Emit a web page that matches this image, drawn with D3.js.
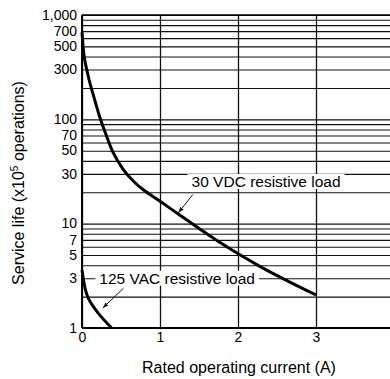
<!DOCTYPE html>
<html>
<head>
<meta charset="utf-8">
<script src="https://cdn.jsdelivr.net/npm/d3@7"></script>
<style>
  body { margin: 0; background: #fff; }
  svg { display: block; font-family: 'Liberation Sans', Arial, Helvetica, sans-serif; }
</style>
</head>
<body>
<div id="chart"></div>
<script>
// values
const xTicks = [0, 1, 2, 3, 4];
const yLabels = [1, 3, 5, 7, 10, 30, 50, 70, 100, 300, 500, 700, 1000];
const yGrid = [1, 2, 3, 4, 5, 6, 7, 8, 9, 10, 20, 30, 40, 50, 60, 70, 80, 90,
  100, 200, 300, 400, 500, 600, 700, 800, 900, 1000];

const vdcCurrent = [0, 0.03, 0.07, 0.1, 0.167, 0.237, 0.3, 0.4, 0.53, 0.66, 0.79,
  1.0, 1.26, 1.51, 1.77, 2.03, 2.28, 2.54, 2.8, 3.0];
const vdcLife = [680, 390, 280, 225, 150, 100, 74, 48, 33, 25.5, 21,
  16.4, 12, 8.9, 6.6, 5.0, 3.9, 3.07, 2.45, 2.08];

const vacCurrent = [0, 0.04, 0.08, 0.21, 0.38];
const vacLife = [3.6, 2.4, 1.93, 1.38, 1.0];

const labels = ['30 VDC resistive load', '125 VAC resistive load'];
const labelAt = [[2.36, 25.3], [1.22, 3]];
const arrowFrom = [[1.42, 19], [0.53, 2.4]];
const arrowTo = [[1.235, 12.7], [0.265, 1.55]];

const width = 390, height = 379;
const margin = { top: 15, left: 82, bottom: 51 };
const plotW = 312;  // runs off the right edge like the scan

const svg = d3.select('#chart').append('svg')
  .attr('width', width)
  .attr('height', height);

const x = d3.scaleLinear().domain([0, 4]).range([margin.left, margin.left + plotW]);
const y = d3.scaleLog().domain([1, 1000]).range([height - margin.bottom, margin.top]);

svg.append('defs').append('marker')
  .attr('id', 'arrow')
  .attr('viewBox', '0 0 10 10')
  .attr('refX', 10).attr('refY', 5)
  .attr('markerWidth', 6).attr('markerHeight', 6)
  .attr('orient', 'auto')
  .append('path')
  .attr('d', 'M0,1.5L10,5L0,8.5Z')
  .attr('fill', '#111');

// grid
const gridY = svg.append('g')
  .attr('transform', `translate(${margin.left},0)`)
  .call(d3.axisLeft(y).tickValues(yGrid).tickSize(-plotW).tickFormat(''));
gridY.select('.domain').remove();
gridY.selectAll('line').attr('stroke', '#111').attr('stroke-width', 1.1);

const gridX = svg.append('g')
  .attr('transform', `translate(0,${y(1)})`)
  .call(d3.axisBottom(x).tickValues(xTicks).tickSize(-(y(1) - y(1000))).tickFormat(''));
gridX.select('.domain').remove();
gridX.selectAll('line').attr('stroke', '#111').attr('stroke-width', 1.3);

// frame
svg.append('line')
  .attr('x1', x(0)).attr('x2', x(4))
  .attr('y1', y(1000)).attr('y2', y(1000))
  .attr('stroke', '#000').attr('stroke-width', 1.6);
svg.append('line')
  .attr('x1', x(0)).attr('x2', x(4))
  .attr('y1', y(1)).attr('y2', y(1))
  .attr('stroke', '#000').attr('stroke-width', 1.8);
svg.append('line')
  .attr('x1', x(0)).attr('x2', x(0))
  .attr('y1', y(1000)).attr('y2', y(1))
  .attr('stroke', '#000').attr('stroke-width', 2);

// tick labels
const yAxis = svg.append('g')
  .attr('transform', `translate(${margin.left},0)`)
  .call(d3.axisLeft(y).tickValues(yLabels).tickSize(0).tickPadding(5).tickFormat(d3.format(',')));
yAxis.select('.domain').remove();
yAxis.selectAll('text')
  .attr('font-size', 14).attr('fill', '#000')
  .attr('font-family', "'Liberation Sans', Arial, sans-serif")
  .attr('dy', '0.3em');

const xAxis = svg.append('g')
  .attr('transform', `translate(0,${y(1)})`)
  .call(d3.axisBottom(x).tickValues(xTicks).tickSize(0).tickPadding(4).tickFormat(d3.format('d')));
xAxis.select('.domain').remove();
xAxis.selectAll('text')
  .attr('font-size', 14).attr('fill', '#000')
  .attr('font-family', "'Liberation Sans', Arial, sans-serif");

// curves
const line = d3.line()
  .x(d => x(d[0]))
  .y(d => y(d[1]))
  .curve(d3.curveCatmullRom.alpha(0.5));

svg.append('path')
  .datum(d3.zip(vdcCurrent, vdcLife))
  .attr('d', line)
  .attr('fill', 'none').attr('stroke', '#000').attr('stroke-width', 3);

svg.append('path')
  .datum(d3.zip(vacCurrent, vacLife))
  .attr('d', line)
  .attr('fill', 'none').attr('stroke', '#000').attr('stroke-width', 3);

// annotations
labels.forEach((t, i) => {
  const g = svg.append('g');
  const txt = g.append('text')
    .attr('x', x(labelAt[i][0]))
    .attr('y', y(labelAt[i][1]))
    .attr('dy', '0.35em')
    .attr('text-anchor', 'middle')
    .attr('font-size', 15.5)
    .attr('fill', '#000')
    .text(t);
  const bb = txt.node().getBBox();
  g.insert('rect', 'text')
    .attr('x', bb.x - 4).attr('y', bb.y + 1)
    .attr('width', bb.width + 8).attr('height', bb.height - 2)
    .attr('fill', '#fff');

  svg.append('line')
    .attr('x1', x(arrowFrom[i][0])).attr('y1', y(arrowFrom[i][1]))
    .attr('x2', x(arrowTo[i][0])).attr('y2', y(arrowTo[i][1]))
    .attr('stroke', '#111').attr('stroke-width', 1)
    .attr('marker-end', 'url(#arrow)');
});

// axis titles
svg.append('text')
  .attr('x', 239).attr('y', 373)
  .attr('text-anchor', 'middle')
  .attr('font-size', 16)
  .text('Rated operating current (A)');

const yt = svg.append('text')
  .attr('transform', `translate(24,183) rotate(-90)`)
  .attr('text-anchor', 'middle')
  .attr('font-size', 16);
yt.append('tspan').text('Service life (x10');
yt.append('tspan').attr('font-size', 10).attr('dy', -6).text('5');
yt.append('tspan').attr('dy', 6).text(' operations)');
</script>
</body>
</html>
